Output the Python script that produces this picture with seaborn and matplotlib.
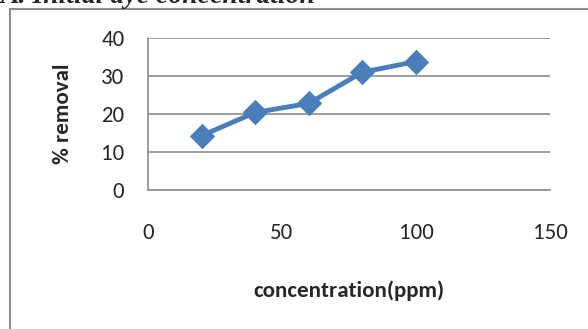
import matplotlib
matplotlib.use('Agg')
import matplotlib.pyplot as plt
import matplotlib.patches as patches
import seaborn as sns
import pandas as pd

# Données
concentration = [20, 40, 60, 80, 100]
removal = [14.3, 20.4, 22.8, 31.0, 33.8]
x_ticks = [0, 50, 100, 150]
y_ticks = [0, 10, 20, 30, 40]

data = pd.DataFrame({'concentration(ppm)': concentration, '% removal': removal})

sns.set_style('white')
plt.rcParams['font.family'] = ['Carlito', 'Lato', 'DejaVu Sans']

fig = plt.figure(figsize=(5.88, 3.29), dpi=100)
ax = fig.add_axes([148 / 588, 1 - 190 / 329, 402 / 588, 152 / 329])

sns.lineplot(data=data, x='concentration(ppm)', y='% removal', color='#4a7ebb',
             linewidth=3.5, marker='D', markersize=12, markeredgecolor='#4a7ebb', ax=ax)

ax.set_xlim(0, 150)
ax.set_ylim(0, 40)
ax.set_xticks(x_ticks)
ax.set_yticks(y_ticks)
ax.grid(axis='y', color='#8c8c8c', linewidth=1.2)
ax.set_axisbelow(True)
for s in ['top', 'right']:
    ax.spines[s].set_visible(False)
for s in ['left', 'bottom']:
    ax.spines[s].set_color('#8c8c8c')
    ax.spines[s].set_linewidth(1.2)
ax.tick_params(axis='x', length=0, pad=24, labelsize=16.5)
ax.tick_params(axis='y', length=0, pad=17, labelsize=16.5)
ax.set_xlabel('concentration(ppm)', fontsize=16.5, fontweight='bold', labelpad=27)
ax.set_ylabel('% removal', fontsize=16.5, fontweight='bold', labelpad=20)

# Cadre extérieur du graphique
fig.patches.append(patches.Rectangle((10 / 588, -0.1), 1.2, 1 - 9 / 329 + 0.1,
                                     transform=fig.transFigure, fill=False,
                                     edgecolor='#8c8c8c', linewidth=1.5))

# Titre de section coupé en haut
fig.text(0.0, 1 - 3 / 329, 'A. Initial dye concentration', fontsize=20,
         fontstyle='italic', fontweight='bold', family='Liberation Serif',
         va='baseline', ha='left')

fig.savefig('out.png', dpi=100)
